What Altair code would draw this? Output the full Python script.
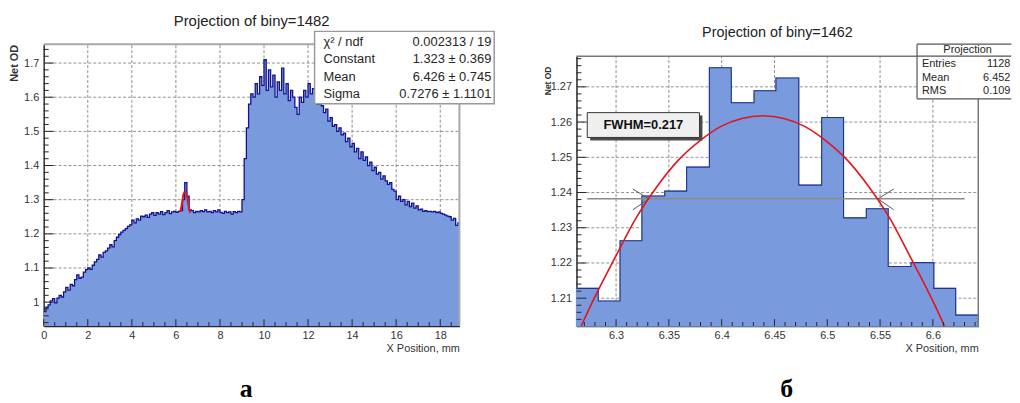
import altair as alt
import pandas as pd

FONT = "Liberation Sans"
SERIF = "Liberation Serif"
FILL = "#7a9ade"
EDGE = "#12128e"
EDGE_R = "#22338c"
RED = "#e3141b"
INK = "#262626"
LAB = "#333333"
GRID = "#8c8c8c"

# ---------------- panel а ----------------
LEFT_TITLE = "Projection of biny=1482"
LEFT_CAPTION = "\u0430"
LEFT_STEP = 0.1
LEFT_END = 18.87
LEFT_Y = [
    0.972, 0.985, 0.992, 1.004, 1.010, 0.998, 1.012, 1.020, 1.015, 1.030,
    1.043, 1.035, 1.052, 1.048, 1.066, 1.080, 1.070, 1.073, 1.088, 1.095,
    1.100, 1.096, 1.108, 1.118, 1.125, 1.138, 1.132, 1.146, 1.150, 1.158,
    1.168, 1.162, 1.180, 1.190, 1.198, 1.205, 1.210, 1.215, 1.222, 1.226,
    1.240, 1.232, 1.244, 1.240, 1.252, 1.250, 1.255, 1.248, 1.258, 1.262,
    1.254, 1.262, 1.258, 1.265, 1.256, 1.262, 1.268, 1.259, 1.264, 1.266,
    1.263, 1.266, 1.268, 1.300, 1.350, 1.310, 1.270, 1.268, 1.262, 1.266,
    1.264, 1.268, 1.265, 1.270, 1.264, 1.266, 1.262, 1.268, 1.264, 1.270,
    1.263, 1.260, 1.266, 1.262, 1.264, 1.258, 1.265, 1.262, 1.266, 1.264,
    1.300, 1.420, 1.510, 1.580, 1.610, 1.600, 1.640, 1.610, 1.660, 1.635,
    1.710, 1.620, 1.680, 1.630, 1.665, 1.600, 1.645, 1.620, 1.685, 1.610,
    1.640, 1.590, 1.620, 1.600, 1.570, 1.550, 1.600, 1.585, 1.620, 1.600,
    1.640, 1.610, 1.625, 1.600, 1.580, 1.610, 1.575, 1.555, 1.565, 1.530,
    1.540, 1.515, 1.520, 1.500, 1.510, 1.490, 1.495, 1.470, 1.480, 1.455,
    1.465, 1.440, 1.450, 1.420, 1.440, 1.415, 1.425, 1.400, 1.410, 1.385,
    1.395, 1.375, 1.380, 1.360, 1.370, 1.355, 1.345, 1.350, 1.330, 1.325,
    1.300, 1.310, 1.295, 1.300, 1.285, 1.295, 1.280, 1.290, 1.275, 1.282,
    1.270, 1.272, 1.266, 1.268, 1.265, 1.266, 1.264, 1.266, 1.262, 1.264,
    1.260, 1.258, 1.255, 1.252, 1.250, 1.240, 1.245, 1.225, 1.232,
]
LEFT_FIT_X = [6.20, 6.28, 6.34, 6.42, 6.50, 6.57, 6.65]
LEFT_FIT_Y = [1.264, 1.290, 1.315, 1.323, 1.312, 1.285, 1.262]
LEFT_STAT_LABELS = ["\u03c7\u00b2 / ndf", "Constant", "Mean", "Sigma"]
LEFT_STAT_VALUES = ["0.002313 / 19", "1.323 \u00b1 0.369", "6.426 \u00b1 0.745", "0.7276 \u00b1 1.1101"]
LEFT_XTICKS = [0, 2, 4, 6, 8, 10, 12, 14, 16, 18]
LEFT_YTICKS = [1.0, 1.1, 1.2, 1.3, 1.4, 1.5, 1.6, 1.7]

# ---------------- panel б ----------------
RIGHT_TITLE = "Projection of biny=1462"
RIGHT_CAPTION = "\u0431"
RIGHT_EDGES = [6.2625, 6.2831, 6.3038, 6.3245, 6.3461, 6.3668, 6.3884, 6.4091, 6.4307, 6.4514,
               6.4730, 6.4947, 6.5154, 6.5370, 6.5577, 6.5793, 6.6009, 6.6216, 6.6430]
RIGHT_Y = [1.2128, 1.2092, 1.2263, 1.2390, 1.2404, 1.2472, 1.2754, 1.2655, 1.2689,
           1.2725, 1.2421, 1.2613, 1.2328, 1.2354, 1.2190, 1.2201, 1.2128, 1.2052]
RIGHT_FIT_X = [6.267, 6.279, 6.299, 6.319, 6.339, 6.359, 6.379, 6.399, 6.419, 6.439,
               6.459, 6.479, 6.499, 6.519, 6.539, 6.559, 6.579, 6.599, 6.611]
RIGHT_FIT_Y = [1.2021, 1.2098, 1.2215, 1.2328, 1.2418, 1.2492, 1.2546, 1.2587, 1.2610, 1.2618,
               1.2610, 1.2587, 1.2546, 1.2492, 1.2418, 1.2328, 1.2215, 1.2098, 1.2021]
FWHM_LABEL = "FWHM=0.217"
FWHM_LEVEL = 1.2382
FWHM_CROSS = [6.3310, 6.5480]
RIGHT_STAT_TITLE = "Projection"
RIGHT_STAT_LABELS = ["Entries", "Mean", "RMS"]
RIGHT_STAT_VALUES = ["1128", "6.452", "0.109"]
RIGHT_XTICKS = [6.3, 6.35, 6.4, 6.45, 6.5, 6.55, 6.6]
RIGHT_YTICKS = [1.21, 1.22, 1.23, 1.24, 1.25, 1.26, 1.27]

# ---------------- layout (scales) ----------------
W, H = 1000, 319
LX = {"dom": [0.0, LEFT_END], "rng": [36, 455]}
LY = {"dom": [0.93, 1.755], "rng": [319, 35]}
RX = {"dom": [6.2625, 6.643], "rng": [573, 978]}
RY = {"dom": [1.2021, 1.2787], "rng": [319, 47]}


def enc(ch, field, s, axis=None):
    cls = alt.X if ch == "x" else alt.Y
    return cls(field, type="quantitative",
               scale=alt.Scale(domain=s["dom"], range=s["rng"], nice=False, zero=False),
               axis=axis)


def unit(s):
    return (s["dom"][1] - s["dom"][0]) / abs(s["rng"][1] - s["rng"][0])


def segments(sx, sy, df, **mk):
    return alt.Chart(df).mark_rule(**mk).encode(
        x=enc("x", "x", sx), x2="x2", y=enc("y", "y", sy), y2="y2")


def grid_layers(sx, sy, xv, yv):
    g1 = pd.DataFrame({"gv": xv, "g0": sy["dom"][0], "g1": sy["dom"][1]})
    g2 = pd.DataFrame({"hv": yv, "h0": sx["dom"][0], "h1": sx["dom"][1]})
    return [
        alt.Chart(g1).mark_rule(stroke=GRID, strokeDash=[3, 2], strokeWidth=1).encode(
            x=enc("x", "gv", sx), y=enc("y", "g0", sy), y2="g1"),
        alt.Chart(g2).mark_rule(stroke=GRID, strokeDash=[3, 2], strokeWidth=1, opacity=0.95).encode(
            y=enc("y", "hv", sy), x=enc("x", "h0", sx), x2="h1"),
    ]


def tick_layer(sx, sy, xmaj, xmin, ymaj, ymin, xl, yl):
    y0, x0 = sy["dom"][0], sx["dom"][0]
    ux, uy = unit(sx), unit(sy)
    rows = []
    for vals, L in ((xmaj, xl[0]), (xmin, xl[1])):
        rows += [{"x": v, "x2": v, "y": y0, "y2": y0 + L * uy} for v in vals]
    for vals, L in ((ymaj, yl[0]), (ymin, yl[1])):
        rows += [{"x": x0, "x2": x0 + L * ux, "y": v, "y2": v} for v in vals]
    return segments(sx, sy, pd.DataFrame(rows), stroke=INK, strokeWidth=1)


def frame_lines(sx, sy, color, width):
    d = pd.DataFrame({
        "x": [sx["dom"][0], sx["dom"][1]], "x2": [sx["dom"][1], sx["dom"][1]],
        "y": [sy["dom"][1], sy["dom"][0]], "y2": [sy["dom"][1], sy["dom"][1]],
    })
    return segments(sx, sy, d, stroke=color, strokeWidth=width)


def x_axis(values, title_x):
    return alt.Axis(orient="bottom", values=values, format="~g", grid=False, ticks=False,
                    domain=True, domainColor=INK, domainWidth=1.5,
                    labelFont=FONT, labelFontSize=11, labelColor=LAB, labelPadding=4,
                    labelFlush=False, labelOverlap=False,
                    title="X Position, mm", titleFont=FONT, titleFontSize=11, titleFontWeight="normal",
                    titleColor=LAB, titleX=title_x, titleY=23, titleAlign="right",
                    titleBaseline="middle")


def y_axis(values, offset, title_y, title_size):
    return alt.Axis(orient="left", offset=offset, values=values, format="~g", grid=False, ticks=False,
                    domain=True, domainColor=INK, domainWidth=1.5,
                    labelFont=FONT, labelFontSize=11, labelColor=LAB, labelPadding=5,
                    labelFlush=False, labelOverlap=False,
                    title="Net OD", titleFont=FONT, titleFontSize=title_size, titleFontWeight="bold",
                    titleColor=LAB, titleX=-29, titleY=title_y, titleAngle=270, titleAlign="right",
                    titleBaseline="middle")


def text_layer(df, sx, sy, xf, yf, tf, **mk):
    return alt.Chart(df).mark_text(**mk).encode(x=enc("x", xf, sx), y=enc("y", yf, sy), text=tf + ":N")


# ---------------- panel а layers ----------------
left_x = [round(i * LEFT_STEP, 2) for i in range(len(LEFT_Y))] + [LEFT_END]
left_df = pd.DataFrame({"x": left_x, "y": LEFT_Y + [LEFT_Y[-1]]})

l_area = alt.Chart(left_df).mark_area(interpolate="step-after", color=FILL).encode(
    x=enc("x", "x", LX), y=enc("y", "y", LY), y2=alt.datum(LY["dom"][0]))
l_line = alt.Chart(left_df).mark_line(interpolate="step-after", color=EDGE, strokeWidth=1.3).encode(
    x=enc("x", "x", LX), y=enc("y", "y", LY))
l_fit = alt.Chart(pd.DataFrame({"x": LEFT_FIT_X, "y": LEFT_FIT_Y})).mark_line(
    interpolate="monotone", color=RED, strokeWidth=2).encode(x=enc("x", "x", LX), y=enc("y", "y", LY))

# axes of panel а, attached to an invisible layer drawn on top
l_axes = alt.Chart(left_df).mark_point(opacity=0, size=1).encode(
    x=enc("x", "x", LX, x_axis(LEFT_XTICKS, 455)),
    y=enc("y", "y", LY, y_axis(LEFT_YTICKS, -36, 35, 11)))

l_xminor = [k / 2 for k in range(1, 38) if k % 4 != 0]
l_yminor = [k / 100 for k in range(94, 176, 2) if k % 10 != 0]
l_ticks = tick_layer(LX, LY, LEFT_XTICKS, l_xminor, LEFT_YTICKS, l_yminor, (7, 4), (10, 5))

l_box = alt.Chart(pd.DataFrame({"x": [12.297], "x2": [20.45], "y": [1.7928], "y2": [1.5812]})).mark_rect(
    fill="white", stroke="#9a9a9a", strokeWidth=1.5).encode(
    x=enc("x", "x", LX), x2="x2", y=enc("y", "y", LY), y2="y2")
l_rows = pd.DataFrame({"lab": LEFT_STAT_LABELS, "val": LEFT_STAT_VALUES,
                       "lx": 12.70, "vx": 20.32, "y": [1.7617, 1.7107, 1.6594, 1.6093]})
l_lab = text_layer(l_rows, LX, LY, "lx", "y", "lab", align="left", baseline="middle",
                   font=FONT, fontSize=13, color=INK)
l_val = text_layer(l_rows, LX, LY, "vx", "y", "val", align="right", baseline="middle",
                   font=FONT, fontSize=13, color=INK)
l_title = text_layer(pd.DataFrame({"t": [LEFT_TITLE], "x": [9.44], "y": [1.822]}), LX, LY, "x", "y", "t",
                     align="center", baseline="middle", font=FONT, fontSize=15, color="#222")
l_cap = text_layer(pd.DataFrame({"t": [LEFT_CAPTION], "x": [9.19], "y": [0.721]}), LX, LY, "x", "y", "t",
                   align="center", baseline="alphabetic", font=SERIF, fontSize=26, fontWeight="bold",
                   color="black")

left_layers = [*grid_layers(LX, LY, LEFT_XTICKS, LEFT_YTICKS), l_area, l_line, l_fit, l_ticks,
               frame_lines(LX, LY, "#a8a8a8", 2), l_box, l_lab, l_val, l_title, l_cap, l_axes]

# ---------------- panel б layers ----------------
bars_df = pd.DataFrame({"x": RIGHT_EDGES[:-1], "x2": RIGHT_EDGES[1:], "y": RIGHT_Y})
step_df = pd.DataFrame({"x": RIGHT_EDGES, "y": RIGHT_Y + [RIGHT_Y[-1]]})

r_bars = alt.Chart(bars_df).mark_rect(color=FILL, stroke=FILL, strokeWidth=1.2).encode(
    x=enc("x", "x", RX), x2="x2", y=enc("y", "y", RY), y2=alt.datum(RY["dom"][0]))
r_line = alt.Chart(step_df).mark_line(interpolate="step-after", color=EDGE_R, strokeWidth=1.1).encode(
    x=enc("x", "x", RX), y=enc("y", "y", RY))
r_fit = alt.Chart(pd.DataFrame({"x": RIGHT_FIT_X, "y": RIGHT_FIT_Y})).mark_line(
    interpolate="monotone", color=RED, strokeWidth=1.6).encode(x=enc("x", "x", RX), y=enc("y", "y", RY))
r_axes = alt.Chart(step_df).mark_point(opacity=0, size=1).encode(
    x=enc("x", "x", RX, x_axis(RIGHT_XTICKS, 978)),
    y=enc("y", "y", RY, y_axis(RIGHT_YTICKS, -573, 57, 8.5)))

r_xminor = [k / 100 for k in range(627, 665, 1) if k % 5 != 0 and k / 100 < RX["dom"][1]]
r_yminor = [k / 1000 for k in range(1204, 1279, 2) if k % 10 != 0]
r_ticks = tick_layer(RX, RY, RIGHT_XTICKS, r_xminor, RIGHT_YTICKS, r_yminor, (7, 4), (10, 5))

# FWHM marker line and arrow heads
r_fw = segments(RX, RY, pd.DataFrame({"x": [6.2727], "x2": [6.6301], "y": [FWHM_LEVEL], "y2": [FWHM_LEVEL]}),
                stroke="#8c8c8c", strokeWidth=1.5)
arr_df = pd.DataFrame({
    "x": [6.3159, 6.3159, 6.5630, 6.5630],
    "x2": [FWHM_CROSS[0], FWHM_CROSS[0], FWHM_CROSS[1], FWHM_CROSS[1]],
    "y": [1.2410, 1.2351, 1.2410, 1.2351],
    "y2": [FWHM_LEVEL] * 4,
})
r_arr = segments(RX, RY, arr_df, stroke="#555555", strokeWidth=1)
r_shadow = alt.Chart(pd.DataFrame({"x": [6.2755], "x2": [6.3818], "y": [1.26183], "y2": [1.25478]})).mark_rect(
    fill="#4a4a4a").encode(x=enc("x", "x", RX), x2="x2", y=enc("y", "y", RY), y2="y2")
r_fwbox = alt.Chart(pd.DataFrame({"x": [6.2727], "x2": [6.3790], "y": [1.26268], "y2": [1.25563]})).mark_rect(
    fill="#efefef", stroke="#333333", strokeWidth=1).encode(
    x=enc("x", "x", RX), x2="x2", y=enc("y", "y", RY), y2="y2")
r_fwtxt = text_layer(pd.DataFrame({"t": [FWHM_LABEL], "x": [6.3258], "y": [1.25916]}), RX, RY, "x", "y", "t",
                     align="center", baseline="middle", font=FONT, fontSize=13, fontWeight="bold",
                     color="#111")

# stats box (runs off the right edge)
r_sbox = alt.Chart(pd.DataFrame({"x": [6.585], "x2": [6.6743], "y": [1.2821], "y2": [1.2666]})).mark_rect(
    fill="white").encode(x=enc("x", "x", RX), x2="x2", y=enc("y", "y", RY), y2="y2")
sl = pd.DataFrame({
    "x": [6.585, 6.585, 6.585, 6.585], "x2": [6.6743, 6.585, 6.6743, 6.6743],
    "y": [1.2821, 1.2821, 1.2666, 1.2787], "y2": [1.2821, 1.2666, 1.2666, 1.2787],
})
r_slines = segments(RX, RY, sl, stroke="#555555", strokeWidth=1.2)
r_rows = pd.DataFrame({"lab": RIGHT_STAT_LABELS, "val": RIGHT_STAT_VALUES,
                       "lx": 6.5897, "vx": 6.6734, "y": [1.2765, 1.2725, 1.2689]})
r_lab = text_layer(r_rows, RX, RY, "lx", "y", "lab", align="left", baseline="middle",
                   font=FONT, fontSize=11, color=INK)
r_val = text_layer(r_rows, RX, RY, "vx", "y", "val", align="right", baseline="middle",
                   font=FONT, fontSize=11, color=INK)
r_head = text_layer(pd.DataFrame({"t": [RIGHT_STAT_TITLE], "x": [6.6329], "y": [1.2804]}), RX, RY,
                    "x", "y", "t", align="center", baseline="middle", font=FONT, fontSize=11, color=INK)
r_title = text_layer(pd.DataFrame({"t": [RIGHT_TITLE], "x": [6.4528], "y": [1.2852]}), RX, RY, "x", "y", "t",
                     align="center", baseline="middle", font=FONT, fontSize=14.5, color="#222")
r_cap = text_layer(pd.DataFrame({"t": [RIGHT_CAPTION], "x": [6.4616], "y": [1.1819]}), RX, RY, "x", "y", "t",
                   align="center", baseline="alphabetic", font=SERIF, fontSize=26, fontWeight="bold",
                   color="black")

right_layers = [*grid_layers(RX, RY, RIGHT_XTICKS, RIGHT_YTICKS), r_bars, r_line, r_fw, r_arr, r_fit,
                r_ticks, frame_lines(RX, RY, "#777777", 1.5), r_shadow, r_fwbox, r_fwtxt,
                r_sbox, r_slines, r_lab, r_val, r_head, r_title, r_cap, r_axes]

chart = alt.layer(*left_layers, *right_layers).resolve_scale(x="independent", y="independent").properties(
    width=W, height=H, padding=0, background="white"
).configure_view(stroke=None).configure_axis(zindex=1)

chart.save("out.html", embed_options={"renderer": "svg", "actions": False})
